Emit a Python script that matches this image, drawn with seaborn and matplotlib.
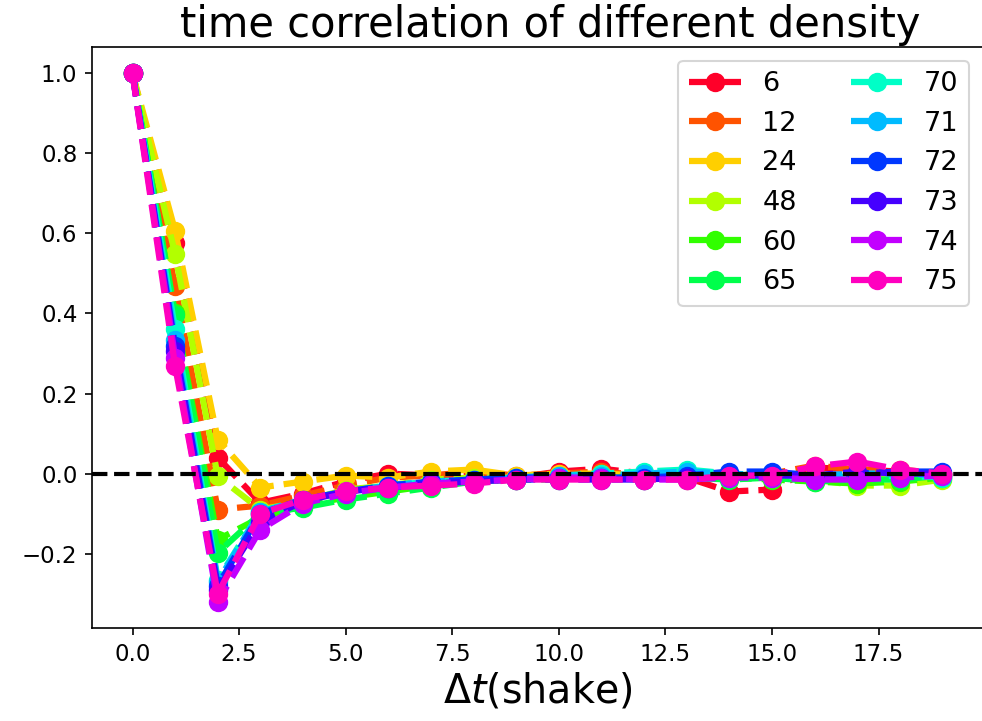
import numpy as np
import pandas as pd
import matplotlib
matplotlib.use("Agg")
import matplotlib.pyplot as plt
import seaborn as sns

dt = list(range(20))
densities = ["6", "12", "24", "48", "60", "65", "70", "71", "72", "73", "74", "75"]

c6 = [1.0, 0.577, 0.04, -0.073, -0.05, -0.02, 0.0, -0.005, 0.0, -0.01, 0.005, 0.012, 0.0, -0.01, -0.045, -0.04, 0.015, 0.01, 0.005, 0.0]
c12 = [1.0, 0.468, -0.09, -0.08, -0.055, -0.03, -0.01, -0.005, 0.005, -0.005, 0.0, 0.005, -0.005, 0.0, -0.01, 0.0, 0.02, 0.01, 0.01, 0.0]
c24 = [1.0, 0.606, 0.085, -0.035, -0.02, -0.005, -0.01, 0.005, 0.01, -0.005, 0.0, 0.0, -0.005, -0.01, 0.0, -0.005, 0.0, -0.01, -0.01, 0.0]
c48 = [1.0, 0.548, -0.007, -0.09, -0.07, -0.04, -0.03, -0.015, -0.01, -0.01, -0.01, -0.005, -0.01, -0.015, -0.01, -0.01, -0.015, -0.03, -0.03, -0.015]
c60 = [1.0, 0.40, -0.165, -0.11, -0.08, -0.06, -0.045, -0.03, -0.02, -0.015, -0.01, -0.01, -0.015, -0.01, -0.01, -0.015, -0.02, -0.025, -0.02, -0.01]
c65 = [1.0, 0.395, -0.198, -0.10, -0.085, -0.065, -0.05, -0.035, -0.02, -0.015, -0.015, -0.01, -0.01, -0.01, -0.015, -0.01, -0.02, -0.015, -0.015, -0.005]
c70 = [1.0, 0.36, -0.265, -0.095, -0.07, -0.045, -0.03, -0.02, -0.015, -0.01, -0.005, 0.0, 0.005, 0.01, 0.0, -0.01, -0.005, -0.01, -0.005, -0.01]
c71 = [1.0, 0.335, -0.27, -0.095, -0.065, -0.045, -0.03, -0.02, -0.015, -0.01, -0.005, -0.005, 0.0, 0.005, 0.0, -0.005, -0.005, 0.0, 0.0, -0.005]
c72 = [1.0, 0.318, -0.28, -0.10, -0.065, -0.045, -0.03, -0.02, -0.015, -0.01, -0.01, -0.01, -0.01, -0.005, 0.005, 0.005, -0.005, 0.0, 0.005, 0.005]
c73 = [1.0, 0.306, -0.29, -0.12, -0.07, -0.045, -0.035, -0.025, -0.02, -0.015, -0.015, -0.015, -0.015, -0.01, -0.005, -0.005, -0.005, 0.005, 0.0, 0.0]
c74 = [1.0, 0.29, -0.32, -0.14, -0.075, -0.05, -0.035, -0.025, -0.02, -0.015, -0.01, -0.01, -0.015, -0.015, -0.01, -0.01, -0.015, -0.015, -0.01, -0.005]
c75 = [1.0, 0.268, -0.30, -0.10, -0.065, -0.044, -0.035, -0.03, -0.025, -0.015, -0.015, -0.015, -0.015, -0.015, -0.005, -0.005, 0.018, 0.03, 0.01, 0.0]

series = [c6, c12, c24, c48, c60, c65, c70, c71, c72, c73, c74, c75]

plt.rcParams["font.family"] = ["DejaVu Sans"]

fig = plt.figure(figsize=(982 / 150, 721 / 150), dpi=150)
ax = fig.add_axes([92 / 982, (721 - 628) / 721, (983 - 92) / 982, 581 / 721])

colors = plt.get_cmap("gist_rainbow")(np.linspace(0, 1, len(densities)))

for name, vals, col in zip(densities, series, colors):
    df = pd.DataFrame({"dt": dt, "corr": vals})
    sns.lineplot(data=df, x="dt", y="corr", ax=ax, color=col, linestyle="--",
                 linewidth=3, marker="o", markersize=8.5, markeredgewidth=0.8,
                 markeredgecolor=col, label=name)

ax.axhline(0, color="k", linestyle="--", linewidth=2)

ax.set_title("time correlation of different density", fontsize=20, pad=5,
             x=(550 - 92) / 891)
ax.set_xlabel(r"$\Delta t$(shake)", fontsize=19, labelpad=3)
ax.set_ylabel("")
ax.tick_params(labelsize=11)
ax.legend(ncol=2, loc="upper right", fontsize=13, handlelength=1.9)

fig.savefig("out.png", dpi=150)
